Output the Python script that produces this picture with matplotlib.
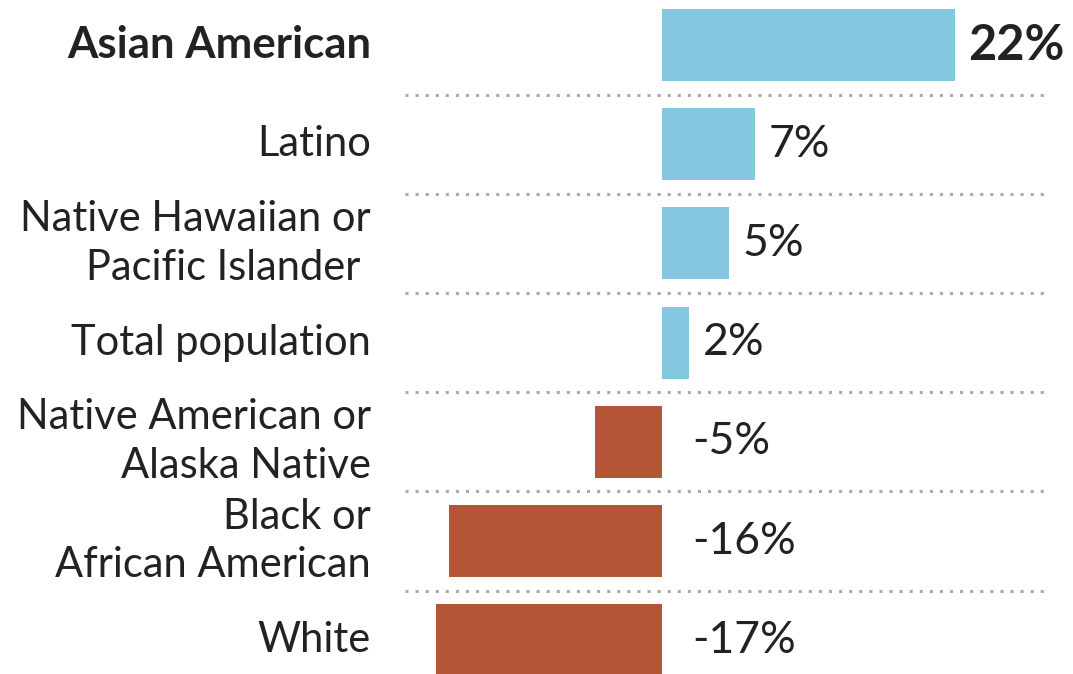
import matplotlib.pyplot as plt
import matplotlib.transforms as mtransforms

groups = ['Asian American', 'Latino', 'Native Hawaiian or\nPacific Islander ',
          'Total population', 'Native American or\nAlaska Native',
          'Black or\nAfrican American', 'White']
change = [22, 7, 5, 2, -5, -16, -17]
labels = ['22%', '7%', '5%', '2%', '-5%', '-16%', '-17%']

BLUE = '#85c6e1'
RUST = '#b35536'
INK = '#222222'

plt.rcParams['font.family'] = ['Lato', 'DejaVu Sans']

fig = plt.figure(figsize=(10.73, 6.74), dpi=100)
ax = fig.add_axes([0, 0, 1, 1])
ax.set_xlim(-49.77, 30.9)
ax.set_ylim(6.34, -0.4536)
ax.axis('off')

colors = [BLUE if v >= 0 else RUST for v in change]
ax.barh(range(len(change)), change, height=0.726, color=colors)

# dotted separators between rows
for i in range(len(change) - 1):
    ax.axhline(i + 0.5, xmin=0.377, xmax=0.976, color='#aaaaaa',
               lw=2.2, ls=(0, (1, 2.3)), dash_capstyle='butt')

def px(dx):
    return mtransforms.offset_copy(ax.transData, fig=fig, x=dx, y=0, units='dots')

for i, (g, v, lab) in enumerate(zip(groups, change, labels)):
    bold = i == 0
    ax.text(0, i, g, transform=px(-291), ha='right', va='center',
            fontsize=31.5 if bold else 30, color=INK, linespacing=1.35,
            fontweight='bold' if bold else 'normal')
    if v >= 0:
        ax.text(v, i, lab, transform=px(14), ha='left', va='center',
                fontsize=35 if bold else 32, color=INK,
                fontweight='bold' if bold else 'normal')
    else:
        ax.text(0, i, lab, transform=px(30), ha='left', va='center',
                fontsize=32, color=INK, fontweight='normal')

fig.savefig('out.png', dpi=100)
